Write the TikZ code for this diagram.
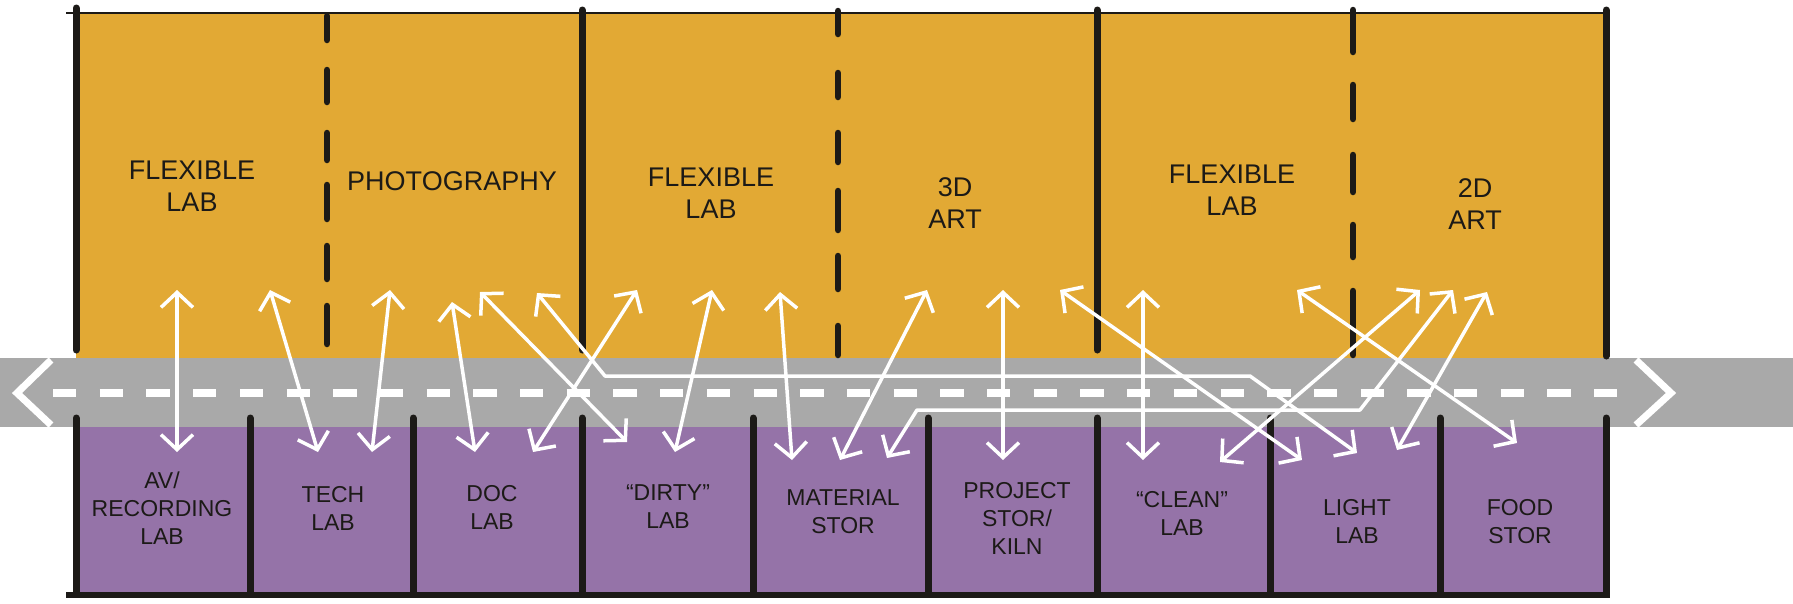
\documentclass[tikz,border=0pt]{standalone}
\usepackage{fontspec}
\setmainfont{Liberation Sans}
\usetikzlibrary{arrows.meta}
\definecolor{ochre}{HTML}{E2A934}
\definecolor{lilac}{HTML}{9573A8}
\definecolor{road}{HTML}{A9A9A9}
\definecolor{ink}{HTML}{1C1A17}
\begin{document}
\begin{tikzpicture}[x=1pt,y=-1pt,
  wall/.style={ink, line width=7pt, line cap=round},
  dwall/.style={ink, line width=6.5pt, line cap=round},
  rim/.style={ink, line width=2.5pt},
  chev/.style={white, line width=7pt},
  barb/.tip={Straight Barb[length=15pt,width=32pt]},
  flow/.style={white, line width=3.5pt, line join=round, barb-barb},
  upper/.style={text=ink, font=\fontsize{27}{32}\selectfont, align=center, inner sep=0pt},
  lower/.style={text=ink, font=\fontsize{23}{28}\selectfont, align=center, inner sep=0pt},
]
\useasboundingbox (0,0) rectangle (1793,603);
% fills
\fill[ochre] (76,13) rectangle (1606,360);
\fill[road] (0,358) rectangle (1793,427);
\fill[lilac] (76,427) rectangle (1606,594);
% outline of the upper block
\draw[rim] (66,13) -- (1606,13);
\foreach \x/\a/\b in {76/8/350, 582/10/350, 1097/10/350, 1606/10/356}
  \draw[wall] (\x,\a) -- (\x,\b);
% dashed partitions
\foreach \a/\b in {16/40, 70/102, 133/160, 185/219, 246/279, 306/344}
  \draw[dwall] (327,\a) -- (327,\b);
\foreach \a/\b in {11/34, 73/97, 133/162, 191/230, 256/289, 326/355}
  \draw[dwall] (838,\a) -- (838,\b);
\foreach \a/\b in {10/52, 85/119, 155/192, 225/257, 291/355}
  \draw[dwall] (1353,\a) -- (1353,\b);
% lower block walls
\foreach \x in {76, 250, 413, 582, 753, 928, 1097, 1270, 1440, 1606}
  \draw[wall] (\x,418) -- (\x,594);
\draw[ink, line width=6pt] (66,595) -- (1610,595);
% corridor
\draw[white, line width=8pt, dash pattern=on 23.3pt off 23.4pt] (53,393) -- (1636,393);
\draw[chev] (51,360) -- (17,393) -- (51,425);
\draw[chev] (1636,360) -- (1671,393) -- (1636,425);
% labels, upper rooms
\node[upper] (flexA) at (192,186) {FLEXIBLE\\LAB};
\node[upper] (photo) at (452,181) {PHOTOGRAPHY};
\node[upper] (flexB) at (711,193) {FLEXIBLE\\LAB};
\node[upper] (art3) at (955,203) {3D\\ART};
\node[upper] (flexC) at (1232,190) {FLEXIBLE\\LAB};
\node[upper] (art2) at (1475,204) {2D\\ART};
% labels, lower rooms
\node[lower] (av) at (162,508) {AV/\\RECORDING\\LAB};
\node[lower] (tech) at (333,508) {TECH\\LAB};
\node[lower] (doc) at (492,507) {DOC\\LAB};
\node[lower] (dirty) at (668,507) {“DIRTY”\\LAB};
\node[lower] (mat) at (843,512) {MATERIAL\\STOR};
\node[lower] (proj) at (1017,518) {PROJECT\\STOR/\\KILN};
\node[lower] (clean) at (1182,513) {“CLEAN”\\LAB};
\node[lower] (light) at (1357,521) {LIGHT\\LAB};
\node[lower] (food) at (1520,522) {FOOD\\STOR};
% arrow end points
\coordinate (p1) at (177,290);  \coordinate (q1) at (177,452);
\coordinate (p2) at (270,290);  \coordinate (q2) at (318,452);
\coordinate (p3) at (390,290);  \coordinate (q3) at (372,452);
\coordinate (p4) at (452,302);  \coordinate (q4) at (475,452);
\coordinate (p5) at (480,292);  \coordinate (q5) at (627,442);
\coordinate (p6) at (537,293);  \coordinate (q6) at (1357,453);
\coordinate (k6a) at (605,376); \coordinate (k6b) at (1250,376);
\coordinate (p7) at (637,290);  \coordinate (q7) at (533,452);
\coordinate (p8) at (712,290);  \coordinate (q8) at (675,452);
\coordinate (p9) at (780,292);  \coordinate (q9) at (792,460);
\coordinate (p10) at (927,290); \coordinate (q10) at (840,460);
\coordinate (p11) at (1453,290);\coordinate (q11) at (887,458);
\coordinate (k11a) at (917,410);\coordinate (k11b) at (1360,410);
\coordinate (p12) at (1003,290);\coordinate (q12) at (1003,460);
\coordinate (p13) at (1060,290);\coordinate (q13) at (1302,460);
\coordinate (p14) at (1143,290);\coordinate (q14) at (1143,460);
\coordinate (p15) at (1297,290);\coordinate (q15) at (1517,443);
\coordinate (p16) at (1420,290);\coordinate (q16) at (1220,462);
\coordinate (p17) at (1487,292);\coordinate (q17) at (1397,450);
% arrows
\foreach \i in {1,2,3,4,5,7,8,9,10,12,13,14,15,16,17}
  \draw[flow] (p\i) -- (q\i);
\draw[flow] (p6) -- (k6a) -- (k6b) -- (q6);
\draw[flow] (q11) -- (k11a) -- (k11b) -- (p11);
\end{tikzpicture}
\end{document}
